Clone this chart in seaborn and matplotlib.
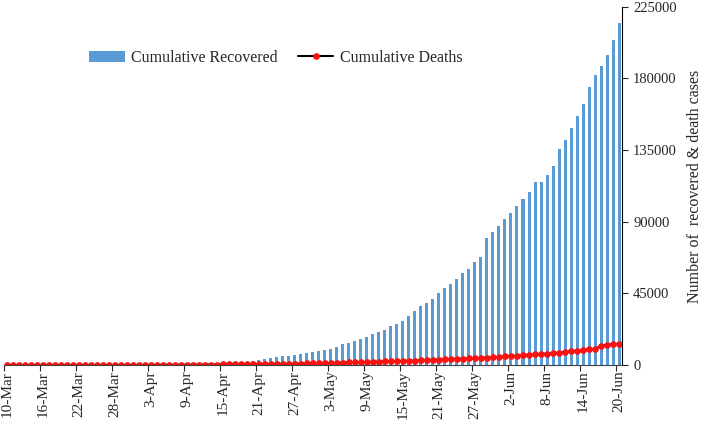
import numpy as np
import pandas as pd
import matplotlib
matplotlib.use("Agg")
import matplotlib.pyplot as plt
import seaborn as sns

# daily dates, 10-Mar to 20-Jun
dates = pd.date_range("2020-03-10", "2020-06-20", freq="D")

# cumulative recovered
recovered = [4, 4, 4, 4, 10, 10, 13, 14, 15, 20,
             23, 23, 27, 40, 43, 45, 67, 75, 85, 95,
             102, 124, 150, 160, 180, 210, 230, 270, 330, 410,
             500, 590, 710, 830, 960, 1100, 1300, 1500, 1750, 1990,
             2230, 2500, 3300, 3800, 4200, 5000, 5700, 6000, 6500, 7200,
             7800, 8400, 9000, 9700, 10300, 11500, 13000, 13800, 15100, 16600,
             17400, 19300, 20800, 22000, 24300, 25800, 27900, 31000, 34000, 36900,
             39000, 41700, 45300, 48200, 50900, 54300, 57700, 60400, 64600, 67700,
             79900, 83600, 87200, 91600, 95600, 100000, 104000, 109000, 114700, 114700,
             119500, 125200, 135600, 141100, 149100, 156600, 164200, 174900, 182200, 187600,
             195000, 204200, 214700]

# cumulative deaths
deaths = [0, 1, 1, 2, 2, 2, 3, 3, 3, 4,
          4, 4, 7, 9, 10, 10, 11, 16, 19, 25,
          29, 32, 38, 50, 62, 75, 83, 111, 118, 149,
          169, 206, 239, 273, 308, 339, 377, 414, 452, 488,
          521, 559, 603, 640, 681, 718, 779, 826, 872, 934,
          1007, 1075, 1147, 1223, 1323, 1389, 1568, 1694, 1783, 1886,
          1981, 2109, 2206, 2293, 2415, 2549, 2649, 2752, 2872, 3029,
          3163, 3303, 3435, 3583, 3720, 3867, 4021, 4167, 4337, 4531,
          4706, 4971, 5164, 5394, 5598, 5815, 6075, 6348, 6700, 6950,
          7200, 7500, 7800, 8200, 8600, 9000, 9400, 9800, 10000, 12300,
          12900, 13100, 13400]

yticks = [0, 45000, 90000, 135000, 180000, 225000]

df = pd.DataFrame({"day": np.arange(len(dates)), "recovered": recovered, "deaths": deaths})
labels = [f"{d.day}-{d.strftime('%b')}" for d in dates]

sns.set_style("white")
plt.rcParams["font.family"] = ["Liberation Serif", "DejaVu Serif"]

fig = plt.figure(figsize=(7.09, 4.28), dpi=100)
ax = fig.add_axes([0.0056, 0.147, 0.8717, 0.837])

sns.barplot(data=df, x="day", y="recovered", color="#5B9BD5", saturation=1,
            width=0.5, linewidth=0, ax=ax, label="Cumulative Recovered")
sns.lineplot(data=df, x="day", y="deaths", color="black", lw=1.5, marker="o",
             markersize=4, markerfacecolor="#FF1010", markeredgecolor="#FF1010",
             ax=ax, label="Cumulative Deaths")

ax.set_xlim(-0.5, len(dates) - 0.5)
ax.set_ylim(0, 225000)

# y axis on the right
ax.yaxis.tick_right()
ax.yaxis.set_label_position("right")
ax.set_yticks(yticks)
ax.set_yticklabels([str(v) for v in yticks], fontsize=10.5)
ax.set_ylabel("Number of  recovered & death cases", fontsize=11.5, labelpad=7)
ax.tick_params(axis="y", direction="out", length=4, width=0.8, pad=4, right=True, left=False)

# x labels every 6 days, tick marks between categories
pos = list(range(0, len(dates), 6))
ax.set_xticks(pos)
ax.set_xticklabels([labels[p] for p in pos], rotation=90, fontsize=11)
ax.set_xticks([p - 0.5 for p in pos], minor=True)
ax.tick_params(axis="x", which="major", length=0, pad=4)
ax.tick_params(axis="x", which="minor", direction="out", length=4, width=0.8, bottom=True)
ax.set_xlabel("")

for s in ["left", "top"]:
    ax.spines[s].set_visible(False)
ax.spines["right"].set_color("black")
ax.spines["right"].set_linewidth(0.8)
ax.spines["bottom"].set_color("#404040")
ax.spines["bottom"].set_linewidth(0.8)

# legend: bars first, then the line
handles, names = ax.get_legend_handles_labels()
order = [names.index("Cumulative Recovered"), names.index("Cumulative Deaths")]
ax.legend([handles[i] for i in order], [names[i] for i in order],
          loc="center", bbox_to_anchor=(0.44, 0.857), ncol=2, frameon=False,
          fontsize=11.5, handlelength=2.2, columnspacing=1.3, handletextpad=0.4)

fig.savefig("out.png", dpi=100)
